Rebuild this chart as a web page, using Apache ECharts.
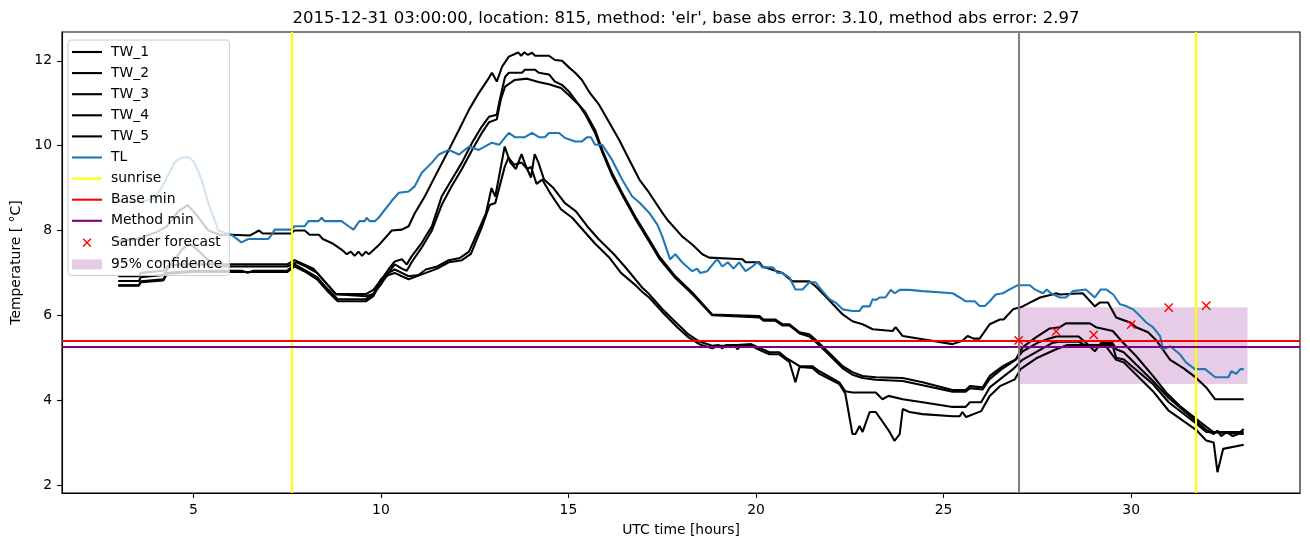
<!DOCTYPE html>
<html>
<head>
<meta charset="utf-8">
<script src="https://cdn.jsdelivr.net/npm/echarts@6/dist/echarts.min.js"></script>
<style>
html,body{margin:0;padding:0;background:#fff;}
#chart{width:1310px;height:547px;}
</style>
</head>
<body>
<div id="chart"></div>
<script>
// ---- data (hour, temperature) ----
const TW_1 = [[3.0,7.75],[3.5,7.8],[4.0,7.95],[4.3,8.1],[4.6,8.45],[4.85,8.6],[5.1,8.35],[5.4,8.0],[5.7,7.9],[6.02,7.9],[6.5,7.88],[6.65,7.95],[6.75,8.0],[6.85,7.93],[7.6,7.93],[7.7,8.0],[7.97,8.0],[8.1,7.9],[8.35,7.9],[8.45,7.8],[8.7,7.7],[8.95,7.55],[9.09,7.44],[9.2,7.5],[9.3,7.4],[9.4,7.5],[9.5,7.4],[9.6,7.5],[9.68,7.44],[9.94,7.65],[10.29,8.0],[10.56,8.02],[10.74,8.1],[10.9,8.4],[11.17,8.8],[11.44,9.27],[11.81,9.9],[12.08,10.37],[12.35,10.85],[12.61,11.24],[12.88,11.6],[12.96,11.72],[13.09,11.51],[13.23,11.86],[13.41,12.1],[13.57,12.16],[13.66,12.2],[13.74,12.12],[13.82,12.2],[13.92,12.14],[14.03,12.19],[14.11,12.12],[14.48,12.12],[14.64,12.02],[14.83,12.0],[15.02,11.84],[15.18,11.72],[15.36,11.55],[15.55,11.27],[15.82,10.96],[16.08,10.56],[16.35,10.14],[16.62,9.67],[16.89,9.2],[17.15,8.89],[17.5,8.42],[17.63,8.26],[18.03,7.86],[18.3,7.67],[18.57,7.44],[18.75,7.36],[19.64,7.32],[19.72,7.25],[20.09,7.25],[20.17,7.15],[20.7,7.0],[20.97,6.8],[21.42,6.8],[21.58,6.69],[21.85,6.45],[22.31,6.02],[22.57,5.86],[22.84,5.79],[23.11,5.67],[23.64,5.63],[23.72,5.72],[23.91,5.51],[25.24,5.32],[25.5,5.4],[25.64,5.51],[25.8,5.45],[25.96,5.45],[26.23,5.79],[26.5,5.9],[26.6,5.9],[26.85,6.14],[27.11,6.21],[27.3,6.3],[27.57,6.42],[27.9,6.49],[28.0,6.52],[28.1,6.49],[28.71,6.52],[29.03,6.21],[29.16,6.3],[29.38,6.3],[29.6,5.95],[29.97,5.83],[30.13,5.72],[30.45,5.6],[30.66,5.42],[31.04,4.95],[31.4,4.75],[31.7,4.55],[32.0,4.3],[32.24,4.02],[33.0,4.02]];

const TW_2 = [[3.0,6.92],[3.55,6.92],[3.6,7.0],[4.2,7.05],[4.3,7.15],[4.6,7.2],[6.0,7.2],[7.5,7.2],[7.7,7.3],[7.95,7.2],[8.2,7.1],[8.5,6.8],[8.8,6.5],[9.6,6.5],[9.8,6.6],[10.02,6.85],[10.2,7.08],[10.37,7.27],[10.56,7.32],[10.69,7.2],[10.82,7.39],[11.09,7.71],[11.36,8.1],[11.62,8.8],[11.89,9.2],[12.16,9.6],[12.43,10.07],[12.69,10.45],[12.88,10.68],[13.09,10.73],[13.15,11.0],[13.23,11.32],[13.31,11.62],[13.41,11.72],[13.76,11.72],[13.84,11.79],[14.11,11.79],[14.21,11.72],[14.48,11.68],[14.64,11.51],[14.83,11.43],[15.02,11.27],[15.28,10.96],[15.44,10.8],[15.71,10.37],[15.9,9.9],[16.16,9.36],[16.43,8.89],[16.78,8.33],[17.15,7.79],[17.42,7.39],[17.85,6.92],[18.3,6.54],[18.83,6.02],[20.09,5.98],[20.2,5.9],[20.52,5.9],[20.7,5.79],[20.89,5.79],[21.16,5.6],[21.42,5.55],[21.58,5.43],[21.85,5.2],[22.31,4.8],[22.57,4.66],[22.84,4.57],[23.19,4.54],[23.91,4.52],[24.44,4.42],[25.24,4.24],[25.59,4.24],[25.7,4.33],[26.04,4.3],[26.23,4.57],[26.58,4.8],[26.92,4.96],[27.11,5.25],[27.46,5.48],[27.83,5.69],[28.1,5.72],[28.26,5.81],[28.9,5.81],[29.06,5.72],[29.51,5.63],[29.78,5.36],[30.13,5.04],[30.58,4.57],[30.93,4.18],[31.3,3.86],[31.84,3.48],[32.18,3.25],[33.0,3.25]];

const TW_3 = [[3.0,6.81],[3.55,6.81],[3.6,6.9],[4.2,6.95],[4.4,7.2],[4.7,7.55],[4.9,7.7],[5.1,7.55],[5.4,7.3],[5.7,7.15],[7.5,7.15],[7.75,7.25],[8.0,7.15],[8.3,7.0],[8.6,6.7],[8.8,6.5],[9.6,6.45],[9.8,6.5],[10.02,6.75],[10.2,7.0],[10.37,7.2],[10.56,7.1],[10.69,7.05],[10.82,7.25],[11.09,7.6],[11.36,8.0],[11.62,8.6],[11.89,9.05],[12.16,9.45],[12.43,9.9],[12.69,10.3],[12.88,10.55],[13.09,10.62],[13.2,11.1],[13.31,11.39],[13.57,11.55],[13.9,11.58],[14.2,11.5],[14.48,11.45],[14.8,11.36],[15.0,11.2],[15.28,10.96],[15.44,10.75],[15.71,10.3],[15.9,9.85],[16.16,9.3],[16.43,8.84],[16.78,8.28],[17.15,7.74],[17.42,7.34],[17.85,6.88],[18.3,6.5],[18.83,6.0],[20.09,5.95],[20.2,5.87],[20.52,5.87],[20.7,5.76],[20.89,5.76],[21.16,5.57],[21.42,5.5],[21.58,5.38],[21.85,5.15],[22.31,4.75],[22.57,4.6],[22.84,4.52],[23.19,4.48],[23.91,4.45],[24.44,4.35],[25.24,4.2],[25.59,4.2],[25.7,4.28],[26.04,4.25],[26.23,4.5],[26.58,4.75],[26.92,4.95],[27.11,5.15],[27.5,5.35],[27.8,5.45],[28.0,5.5],[28.6,5.5],[28.8,5.35],[29.03,5.15],[29.2,5.35],[29.5,5.35],[29.6,5.2],[29.8,5.13],[30.58,4.45],[31.0,4.05],[31.73,3.5],[32.0,3.3],[32.2,3.2],[32.3,3.28],[32.4,3.15],[32.55,3.25],[32.7,3.15],[32.85,3.2],[33.0,3.32]];

const TW_4 = [[3.0,6.71],[3.55,6.71],[3.6,6.8],[4.2,6.85],[4.3,7.0],[5.0,7.05],[6.3,7.05],[6.45,7.0],[6.6,7.05],[7.5,7.05],[7.7,7.2],[8.0,7.05],[8.3,6.9],[8.6,6.6],[8.85,6.38],[9.6,6.38],[9.8,6.5],[10.0,6.85],[10.2,7.0],[10.37,7.08],[10.56,7.0],[10.74,6.92],[11.0,6.95],[11.2,7.08],[11.5,7.15],[11.81,7.3],[12.1,7.35],[12.35,7.5],[12.6,8.0],[12.8,8.4],[12.95,9.0],[13.05,8.8],[13.3,9.98],[13.45,9.6],[13.6,9.45],[13.75,9.8],[13.85,9.55],[14.0,9.25],[14.1,9.8],[14.2,9.6],[14.35,9.2],[14.6,9.0],[14.9,8.65],[15.2,8.45],[15.5,8.1],[15.8,7.8],[16.2,7.45],[16.5,7.15],[16.97,6.65],[17.15,6.5],[17.5,6.15],[17.9,5.8],[18.2,5.55],[18.49,5.38],[18.83,5.28],[19.0,5.3],[19.1,5.22],[19.2,5.3],[19.5,5.3],[19.87,5.32],[20.17,5.2],[20.36,5.13],[20.62,5.13],[20.78,5.01],[20.89,4.95],[21.16,4.8],[21.5,4.8],[21.69,4.68],[22.22,4.42],[22.38,4.21],[22.57,4.18],[23.19,4.18],[23.37,4.02],[23.53,4.1],[23.91,4.02],[24.44,3.95],[25.24,3.84],[25.59,3.84],[25.7,3.95],[26.0,3.95],[26.23,4.3],[26.5,4.49],[26.85,4.73],[27.1,4.95],[27.5,5.15],[27.9,5.35],[28.1,5.38],[28.6,5.38],[28.85,5.25],[29.0,5.3],[29.5,5.3],[29.6,5.0],[29.8,4.96],[30.58,4.38],[31.0,3.95],[31.73,3.45],[32.0,3.25],[33.0,3.2]];

const TW_5 = [[3.0,6.7],[3.55,6.7],[3.6,6.78],[4.2,6.82],[4.3,6.98],[5.0,7.02],[7.5,7.02],[7.7,7.15],[8.0,7.02],[8.3,6.85],[8.6,6.55],[8.85,6.33],[9.6,6.33],[9.8,6.45],[10.0,6.8],[10.2,6.95],[10.37,7.0],[10.56,6.92],[10.74,6.85],[11.2,7.0],[11.5,7.1],[11.81,7.25],[12.16,7.3],[12.4,7.45],[12.7,8.1],[12.9,8.6],[13.05,8.65],[13.3,9.5],[13.4,9.72],[13.55,9.55],[13.75,9.6],[13.9,9.45],[14.0,9.5],[14.15,9.1],[14.3,9.2],[14.5,8.9],[14.8,8.5],[15.1,8.3],[15.4,8.0],[15.7,7.7],[16.1,7.35],[16.4,7.0],[16.8,6.7],[16.97,6.55],[17.15,6.42],[17.5,6.08],[17.9,5.72],[18.2,5.48],[18.49,5.32],[18.83,5.22],[19.0,5.28],[19.45,5.28],[19.5,5.2],[19.6,5.28],[19.87,5.28],[20.17,5.15],[20.36,5.08],[20.62,5.08],[20.78,4.97],[20.89,4.9],[21.05,4.42],[21.16,4.78],[21.5,4.76],[21.69,4.62],[22.22,4.38],[22.38,4.15],[22.57,3.2],[22.65,3.2],[22.76,3.39],[22.84,3.25],[23.03,3.72],[23.19,3.72],[23.32,3.56],[23.56,3.25],[23.69,3.04],[23.83,3.2],[23.91,3.79],[24.09,3.72],[24.44,3.67],[25.24,3.62],[25.43,3.62],[25.5,3.72],[25.6,3.6],[26.0,3.74],[26.23,4.1],[26.5,4.33],[26.9,4.49],[27.05,4.73],[27.5,5.0],[28.0,5.2],[28.3,5.3],[29.3,5.3],[29.6,4.95],[29.8,4.89],[30.58,4.21],[31.0,3.75],[31.73,3.3],[32.0,3.05],[32.2,3.0],[32.3,2.3],[32.45,2.85],[33.0,2.95]];

const TL = [[3.0,8.68],[3.6,8.68],[3.95,8.75],[4.15,9.0],[4.5,9.6],[4.68,9.72],[4.9,9.72],[5.03,9.6],[5.22,9.2],[5.4,8.65],[5.67,8.0],[6.02,7.9],[6.28,7.72],[6.47,7.8],[7.0,7.8],[7.09,7.9],[7.17,8.02],[7.62,8.02],[7.7,8.1],[7.97,8.1],[8.07,8.22],[8.34,8.22],[8.42,8.3],[8.5,8.22],[8.95,8.22],[9.14,8.1],[9.27,8.02],[9.43,8.22],[9.57,8.22],[9.62,8.3],[9.7,8.22],[9.84,8.22],[9.94,8.3],[10.29,8.7],[10.48,8.89],[10.74,8.92],[10.9,9.04],[11.09,9.36],[11.36,9.6],[11.54,9.79],[11.81,9.9],[12.08,9.79],[12.35,9.98],[12.61,9.9],[12.96,10.07],[13.15,10.02],[13.41,10.3],[13.57,10.2],[13.84,10.2],[14.03,10.3],[14.21,10.2],[14.37,10.2],[14.48,10.3],[14.75,10.3],[14.91,10.18],[15.18,10.1],[15.36,10.1],[15.5,10.2],[15.6,10.2],[15.71,10.02],[15.9,10.02],[16.16,9.67],[16.43,9.2],[16.7,8.8],[16.89,8.66],[17.15,8.42],[17.37,8.14],[17.5,7.86],[17.71,7.32],[17.85,7.44],[18.03,7.25],[18.3,7.04],[18.43,7.1],[18.51,7.0],[18.7,7.04],[18.89,7.25],[18.97,7.32],[19.1,7.15],[19.25,7.25],[19.4,7.1],[19.55,7.25],[19.72,7.04],[19.9,7.15],[20.04,7.25],[20.17,7.13],[20.45,7.13],[20.57,7.0],[20.7,7.0],[20.89,6.89],[21.05,6.61],[21.24,6.61],[21.42,6.78],[21.58,6.78],[21.77,6.57],[21.96,6.38],[22.12,6.3],[22.31,6.14],[22.57,6.1],[22.76,6.1],[22.84,6.21],[23.03,6.21],[23.11,6.38],[23.2,6.36],[23.29,6.42],[23.45,6.42],[23.59,6.6],[23.7,6.52],[23.83,6.6],[24.09,6.6],[24.44,6.57],[25.24,6.52],[25.43,6.42],[25.59,6.33],[25.83,6.33],[25.96,6.22],[26.1,6.22],[26.23,6.33],[26.39,6.49],[26.58,6.52],[26.76,6.61],[26.98,6.71],[27.3,6.71],[27.43,6.61],[27.65,6.52],[27.75,6.61],[27.86,6.52],[28.1,6.42],[28.26,6.42],[28.45,6.57],[28.79,6.61],[29.03,6.42],[29.19,6.61],[29.33,6.61],[29.52,6.49],[29.7,6.26],[29.86,6.22],[30.05,6.14],[30.24,5.98],[30.4,5.83],[30.58,5.72],[30.77,5.51],[30.85,5.2],[31.04,5.27],[31.3,5.08],[31.46,4.89],[31.7,4.73],[31.97,4.73],[32.24,4.54],[32.59,4.54],[32.67,4.68],[32.8,4.62],[32.91,4.73],[33.0,4.73]];

const sunriseHours = [7.63, 31.72];
const nowHour = 27;
const baseMin = 5.41;
const methodMin = 5.27;
const forecastHours = [27, 28, 29, 30, 31, 32];
const forecastValues = [5.41, 5.62, 5.54, 5.78, 6.18, 6.23];
const confHours = [27, 33.1];
const confBounds = [4.38, 6.19];

const xTicks = [5, 10, 15, 20, 25, 30];
const yTicks = [2, 4, 6, 8, 10, 12];

const TITLE = "2015-12-31 03:00:00, location: 815, method: 'elr', base abs error: 3.10, method abs error: 2.97";

// ---- chart ----
const FONT = 'DejaVu Sans';
const LW = 2.08;
const chart = echarts.init(document.getElementById('chart'), null, {renderer: 'canvas'});

function twSeries(name, data) {
  return {
    name: name, type: 'line', data: data, symbol: 'none', z: 2,
    color: '#000000',
    lineStyle: {color: '#000000', width: LW}
  };
}
function mlSeries(name, color, lines, z) {
  return {
    name: name, type: 'line', data: [], symbol: 'none', z: z || 4, color: color,
    lineStyle: {color: color, width: LW},
    markLine: {
      silent: true, symbol: ['none', 'none'], label: {show: false},
      lineStyle: {color: color, width: LW, type: 'solid'},
      emphasis: {disabled: true},
      data: lines
    }
  };
}

const xIcon = 'path://M0,0L10,10M10,0L0,10';
const xIconLegend = 'path://M-4,-4M0,0L10,10M10,0L0,10M14,14';
const lineIcon = 'path://M0,0H30V2.1H0Z';
function lineLegend(name, color) {
  return {name: name, icon: lineIcon, itemStyle: {color: color, borderWidth: 0}};
}

const option = {
  animation: false,
  backgroundColor: '#ffffff',
  textStyle: {fontFamily: FONT},
  title: {
    text: TITLE, left: 681, top: 5, textAlign: 'center',
    textStyle: {fontFamily: FONT, fontSize: 16.5, fontWeight: 'normal', color: '#000'}
  },
  grid: {left: 62, right: 10, top: 32, bottom: 54, show: true, borderColor: '#000', borderWidth: 1.1, backgroundColor: 'transparent'},
  xAxis: {
    type: 'value', min: 1.5, max: 34.5,
    name: 'UTC time [hours]', nameLocation: 'middle', nameGap: 30,
    nameTextStyle: {fontFamily: FONT, fontSize: 13.9, color: '#000'},
    axisLine: {show: true, onZero: false, lineStyle: {color: '#000', width: 1.1}},
    axisTick: {show: true, length: 4.9, customValues: xTicks, lineStyle: {color: '#000', width: 1.1}},
    axisLabel: {customValues: xTicks, margin: 10, fontFamily: FONT, fontSize: 13.9, color: '#000'},
    splitLine: {show: false}
  },
  yAxis: {
    type: 'value', min: 1.81, max: 12.68,
    name: 'Temperature [ °C]', nameLocation: 'middle', nameGap: 35, nameRotate: 90,
    nameTextStyle: {fontFamily: FONT, fontSize: 13.9, color: '#000'},
    axisLine: {show: true, onZero: false, lineStyle: {color: '#000', width: 1.1}},
    axisTick: {show: true, length: 4.9, customValues: yTicks, lineStyle: {color: '#000', width: 1.1}},
    axisLabel: {customValues: yTicks, margin: 10, fontFamily: FONT, fontSize: 13.9, color: '#000'},
    splitLine: {show: false}
  },
  legend: {
    left: 68, top: 40, orient: 'vertical',
    itemWidth: 30, itemHeight: 14, itemGap: 7.1,
    padding: [5, 7, 4, 4],
    backgroundColor: 'rgba(255,255,255,0.8)', borderColor: '#cccccc', borderWidth: 1, borderRadius: 3,
    textStyle: {fontFamily: FONT, fontSize: 13.9, color: '#000', padding: [0, 0, 0, 4]},
    selectedMode: false,
    data: [
      lineLegend('TW_1', '#000000'), lineLegend('TW_2', '#000000'), lineLegend('TW_3', '#000000'),
      lineLegend('TW_4', '#000000'), lineLegend('TW_5', '#000000'), lineLegend('TL', '#1f77b4'),
      lineLegend('sunrise', '#ffff00'), lineLegend('Base min', '#ff0000'), lineLegend('Method min', '#800080'),
      {name: 'Sander forecast', icon: xIconLegend, itemStyle: {color: '#ff0000', borderColor: '#ff0000', borderWidth: 1.4}},
      {name: '95% confidence', icon: 'path://M0,0H30V10H0Z', itemStyle: {color: 'rgba(128,0,128,0.2)', borderWidth: 0}}
    ]
  },
  series: [
    {
      name: '95% confidence', type: 'line', data: [], symbol: 'none', z: 1,
      color: 'rgba(128,0,128,0.2)',
      markArea: {
        silent: true,
        itemStyle: {color: 'rgba(128,0,128,0.2)'},
        data: [[{xAxis: confHours[0], yAxis: confBounds[0]}, {xAxis: confHours[1], yAxis: confBounds[1]}]]
      }
    },
    twSeries('TW_1', TW_1),
    twSeries('TW_2', TW_2),
    twSeries('TW_3', TW_3),
    twSeries('TW_4', TW_4),
    twSeries('TW_5', TW_5),
    {name: 'TL', type: 'line', data: TL, symbol: 'none', z: 3, color: '#1f77b4', lineStyle: {color: '#1f77b4', width: LW}},
    mlSeries('sunrise', '#ffff00', sunriseHours.map(h => ({xAxis: h}))),
    mlSeries('Base min', '#ff0000', [{yAxis: baseMin}]),
    mlSeries('Method min', '#800080', [{yAxis: methodMin}]),
    mlSeries('now', '#808080', [{xAxis: nowHour}]),
    {
      name: 'Sander forecast', type: 'scatter', z: 5,
      data: forecastHours.map((h, i) => [h, forecastValues[i]]),
      symbol: xIcon, symbolSize: 8.3,
      itemStyle: {color: '#ff0000', borderColor: '#ff0000', borderWidth: 1.4, opacity: 1}
    }
  ]
};
chart.setOption(option);
</script>
</body>
</html>
